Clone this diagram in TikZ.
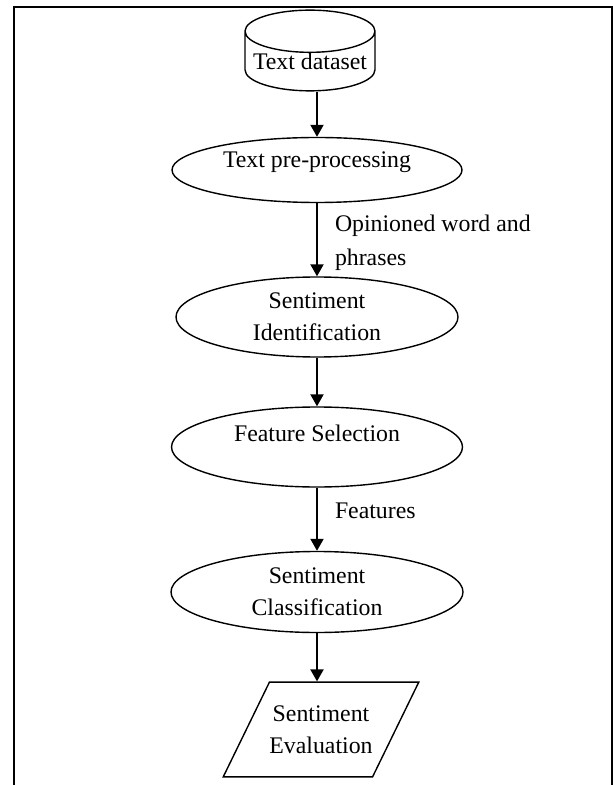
\documentclass[tikz,border=0pt]{standalone}
\usepackage{fontspec}
\setmainfont{Liberation Serif}
\usepackage{tikz}
\usetikzlibrary{arrows.meta,shapes.geometric}
\tikzset{sabox/.style={draw=black,line width=.7pt,fill=white,align=center,font=\fontsize{11.9}{16}\selectfont,inner sep=0pt},sarrow/.style={-{Triangle[length=6pt,width=6.5pt]},draw=black,line width=1pt},salbl/.style={font=\fontsize{11.9}{17}\selectfont,align=left,inner sep=0pt,anchor=west,xshift=8.5pt}}

\begin{document}
\begin{tikzpicture}[x=.5pt,y=-.5pt,
saell/.style={sabox,ellipse},
sacyl/.style={sabox,cylinder,shape border rotate=90,aspect=.37,minimum width=65pt,minimum height=34pt,anchor=shape center},
sapar/.style={sabox,trapezium,trapezium left angle=64,trapezium right angle=116,inner xsep=0pt,inner ysep=11.7pt}]
\useasboundingbox (0,0) rectangle (613,785);
\draw[line width=1pt] (14,785)--(14,7)--(612,7)--(612,785);
\node[sacyl] (data) at (310,50.5) {Text dataset};
\node[saell,minimum width=145pt,minimum height=32.5pt,text depth=10pt] (prep) at (317,170) {Text pre-processing};
\node[saell,minimum width=141pt,minimum height=40pt] (ident) at (317,317) {Sentiment\\Identification};
\node[saell,minimum width=145.5pt,minimum height=40pt,text depth=14pt] (fsel) at (317,447) {Feature Selection};
\node[saell,minimum width=146pt,minimum height=40.5pt] (clas) at (317,592) {Sentiment\\Classification};
\node[sapar] (eval) at (321,729.5) {Sentiment\\Evaluation};
\draw[sarrow] (data.south -| prep) -- (prep);
\draw[sarrow] (prep) -- (ident) node[salbl,pos=.54] {Opinioned word and\\phrases};
\draw[sarrow] (ident) -- (fsel);
\draw[sarrow] (fsel) -- (clas) node[salbl,pos=.37] {Features};
\draw[sarrow] (clas) -- (clas |- eval.north);
\end{tikzpicture}
\end{document}
